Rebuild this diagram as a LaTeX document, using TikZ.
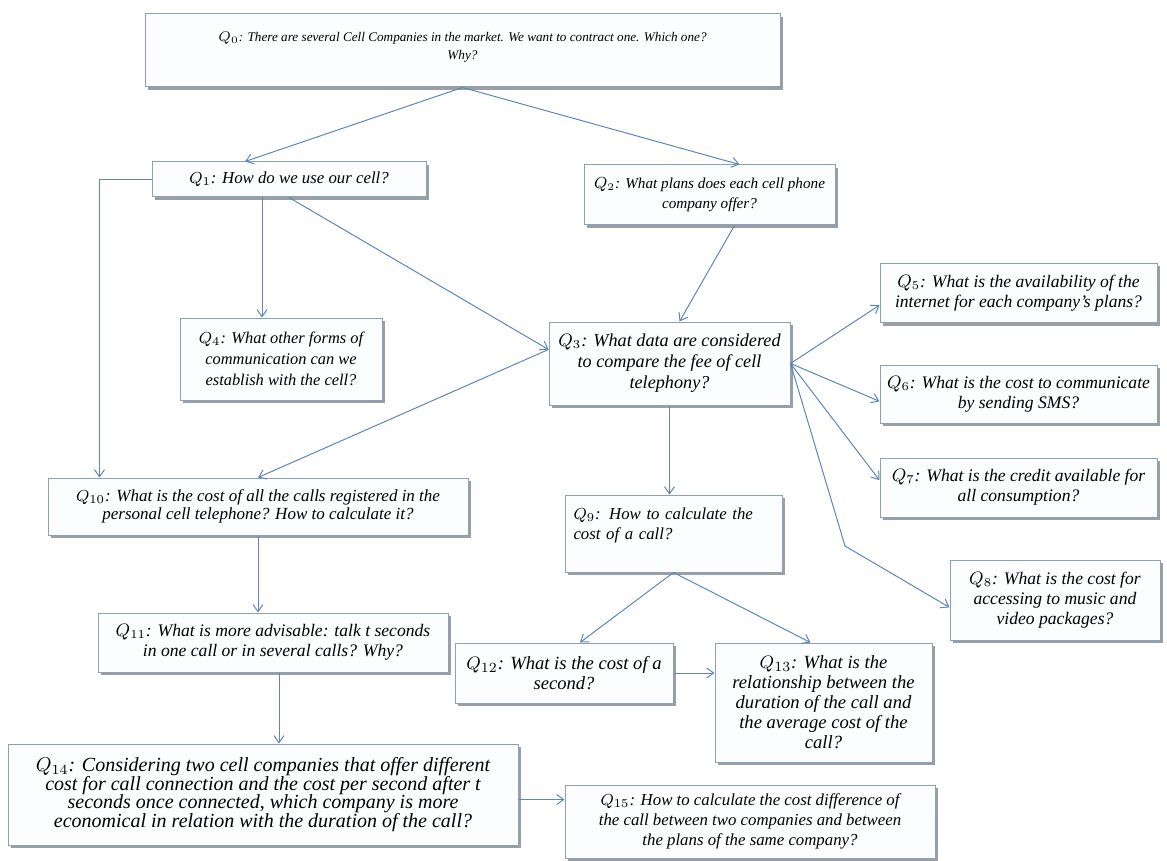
\documentclass[tikz,border=0pt]{standalone}
\usepackage{fontspec}
\setmainfont{Liberation Serif}
\usetikzlibrary{arrows.meta, calc}

\definecolor{qborder}{HTML}{8DA1B6}
\definecolor{qfill}{HTML}{FBFDFE}
\definecolor{qlink}{HTML}{5E85BD}
\definecolor{qshade}{HTML}{9A9FA6}

\newcommand{\qfont}{\fontsize{8.8}{10}\selectfont\itshape}

\tikzset{
  qbox/.style={draw=qborder, fill=qfill, line width=0.5pt, align=center, inner sep=2pt,
    font=\qfont, preaction={fill=qshade, transform canvas={xshift=1.5pt, yshift=-1.5pt}}},
  link/.style={draw=qlink, line width=0.5pt, -{Straight Barb[length=3.5pt,width=5pt]}}
}

\begin{document}
\begin{tikzpicture}[x=0.5pt, y=-0.5pt]
      \useasboundingbox (0,0) rectangle (1167,861);
      % Questions
      \node[qbox, minimum width=317.5pt, minimum height=36.5pt, font=\fontsize{6.6}{9}\selectfont\itshape] (Q0) at (462.5,50.5) {$Q_0$: There are several Cell Companies in the market. We want to contract one. Which one?\\ Why?\\[-4pt]};
      \node[qbox, minimum width=137pt, minimum height=17.5pt, font=\fontsize{8.4}{10}\selectfont\itshape] (Q1) at (289,179.5) {$Q_1$: How do we use our cell?};
      \node[qbox, minimum width=125.5pt, minimum height=30pt, font=\fontsize{7.6}{10}\selectfont\itshape] (Q2) at (709.5,195) {$Q_2$: What plans does each cell phone\\ company offer?};
      \node[qbox, minimum width=101pt, minimum height=41pt, font=\fontsize{8.2}{10.5}\selectfont\itshape] (Q4) at (281,359) {$Q_4$: What other forms of\\ communication can we\\ establish with the cell?};
      \node[qbox, minimum width=120.5pt, minimum height=41.5pt, font=\fontsize{9.1}{10.5}\selectfont\itshape] (Q3) at (669.5,363.5) {$Q_3$: What data are considered\\ to compare the fee of cell\\ telephony?};
      \node[qbox, minimum width=138.5pt, minimum height=29.5pt] (Q5) at (1018.5,293) {$Q_5$: What is the availability of the\\ internet for each company's plans?};
      \node[qbox, minimum width=138.5pt, minimum height=29pt] (Q6) at (1018.5,394) {$Q_6$: What is the cost to communicate\\ by sending SMS?};
      \node[qbox, minimum width=138.5pt, minimum height=29.5pt] (Q7) at (1018.5,487.5) {$Q_7$: What is the credit available for\\ all consumption?};
      \node[qbox, minimum width=105pt, minimum height=40pt] (Q8) at (1055,600) {$Q_8$: What is the cost for\\ accessing to music and\\ video packages?};
      \node[qbox, minimum width=210pt, minimum height=28.5pt, font=\fontsize{8.5}{9.2}\selectfont\itshape] (Q10) at (258,506.5) {$Q_{10}$: What is the cost of all the calls registered in the\\ personal cell telephone? How to calculate it?};
      \node[qbox, minimum width=108.5pt, minimum height=38.5pt, align=left, text width=100pt, font=\fontsize{8.4}{10}\selectfont\itshape] (Q9) at (673.5,533.5) {$Q_9$: How to calculate the\\ cost of a call?\\ \mbox{}};
      \node[qbox, minimum width=175pt, minimum height=29.5pt] (Q11) at (273,642.5) {$Q_{11}$: What is more advisable: talk t seconds\\ in one call or in several calls? Why?};
      \node[qbox, minimum width=109pt, minimum height=30pt, font=\fontsize{9.3}{10}\selectfont\itshape] (Q12) at (564,673) {$Q_{12}$: What is the cost of a\\ second?};
      \node[qbox, minimum width=108.5pt, minimum height=59.5pt, font=\fontsize{9.3}{10}\selectfont\itshape] (Q13) at (823.5,702.5) {$Q_{13}$: What is the\\ relationship between the\\ duration of the call and\\ the average cost of the\\ call?};
      \node[qbox, minimum width=255pt, minimum height=50.5pt, font=\fontsize{10}{9.4}\selectfont\itshape] (Q14) at (263,794.5) {$Q_{14}$: Considering two cell companies that offer different\\ cost for call connection and the cost per second after t\\ seconds once connected, which company is more\\ economical in relation with the duration of the call?};
      \node[qbox, minimum width=185pt, minimum height=36.5pt, font=\fontsize{8.4}{10}\selectfont\itshape] (Q15) at (750,821.5) {$Q_{15}$: How to calculate the cost difference of\\ the call between two companies and between\\ the plans of the same company?};
      \coordinate (bend8) at (845,546);

      % Arrows
      \draw[link] (Q0.south) -- ([xshift=-22pt]Q1.north);
      \draw[link] (Q0.south) -- ([xshift=15pt]Q2.north);
      \draw[link] (Q1.west) -| ($(Q10.north west)+(52,0)$);
      \draw[link] ([xshift=-13.5pt]Q1.south) -- ([xshift=-13.5pt]Q1.south |- Q4.north);
      \draw[link] (Q1.south) -- ([yshift=7pt]Q3.west);
      \draw[link] ([xshift=12.5pt]Q2.south) -- ([xshift=5pt]Q3.north);
      \draw[link] ([yshift=7pt]Q3.west) -- (Q10.north);
      \draw[link] (Q3.south) -- (Q3.south |- Q9.north);
      \draw[link] (Q3.east) -- (Q5.185);
      \draw[link] (Q3.east) -- (Q6.183);
      \draw[link] (Q3.east) -- (Q7.177);
      \draw[link] (Q3.east) -- (bend8) -- (Q8.184);
      \draw[link] (Q10.south) -- (Q10.south |- Q11.north);
      \draw[link] ([xshift=3pt]Q11.south) -- ([xshift=3pt]Q11.south |- Q14.north);
      \draw[link] (Q9.south) -- ([xshift=8pt]Q12.north);
      \draw[link] (Q9.south) -- ([xshift=-6.5pt]Q13.north);
      \draw[link] (Q12.east) -- (Q12.east -| Q13.west);
      \draw[link] ([yshift=-2.5pt]Q14.east) -- ([yshift=-2.5pt]Q14.east -| Q15.west);
\end{tikzpicture}
\end{document}
